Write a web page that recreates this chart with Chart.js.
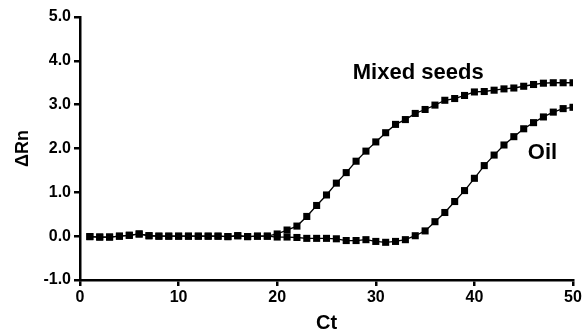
<!DOCTYPE html>
<html>
<head>
<meta charset="utf-8">
<script src="https://cdn.jsdelivr.net/npm/chart.js@4"></script>
<style>
  html, body { margin: 0; padding: 0; background: #fff; }
  #wrap { width: 587px; height: 331px; }
</style>
</head>
<body>
<div id="wrap"><canvas id="myChart" width="587" height="331"></canvas></div>
<script>
// Ct (cycle number)
const cycles = [1,2,3,4,5,6,7,8,9,10,11,12,13,14,15,16,17,18,19,20,21,22,23,24,25,
  26,27,28,29,30,31,32,33,34,35,36,37,38,39,40,41,42,43,44,45,46,47,48,49,50];

// ΔRn, mixed seeds
const mixedSeeds = [-0.01,-0.02,-0.02,0.00,0.02,0.05,0.01,0.00,0.00,0.00,0.00,0.00,0.00,0.00,-0.01,
  0.01,-0.01,0.00,0.00,0.05,0.14,0.23,0.45,0.70,0.94,1.21,1.45,1.71,1.94,2.15,2.36,2.55,2.66,2.80,
  2.89,2.99,3.10,3.14,3.21,3.29,3.30,3.33,3.36,3.38,3.42,3.46,3.49,3.50,3.50,3.50];

// ΔRn, oil
const oil = [-0.01,-0.02,-0.02,0.00,0.02,0.05,0.01,0.00,0.00,0.00,0.00,0.00,0.00,0.00,-0.01,
  0.01,-0.01,0.00,0.00,-0.02,-0.02,-0.03,-0.05,-0.05,-0.05,-0.06,-0.10,-0.10,-0.08,-0.12,-0.14,
  -0.12,-0.08,0.01,0.12,0.33,0.54,0.79,1.04,1.32,1.61,1.85,2.08,2.27,2.45,2.59,2.72,2.83,2.91,2.94];

const yTicks = [-1, 0, 1, 2, 3, 4, 5];
const xTicks = [0, 10, 20, 30, 40, 50];

// curve labels, in data units
const curveLabels = [
  { text: 'Mixed seeds', x: 34.3, y: 3.72 },
  { text: 'Oil', x: 46.9, y: 1.90 }
];

const FONT = '"Liberation Sans", Arial, sans-serif';

function toPoints(ys) {
  return cycles.map((c, i) => ({ x: c, y: ys[i] }));
}

// draws the "Mixed seeds" / "Oil" text next to the curves
const curveLabelPlugin = {
  id: 'curveLabels',
  afterDatasetsDraw(chart) {
    const ctx = chart.ctx;
    const xs = chart.scales.x, ys = chart.scales.y;
    ctx.save();
    ctx.fillStyle = '#000';
    ctx.font = 'bold 22px ' + FONT;
    ctx.textAlign = 'center';
    ctx.textBaseline = 'middle';
    curveLabels.forEach(l => {
      ctx.fillText(l.text, xs.getPixelForValue(l.x), ys.getPixelForValue(l.y));
    });
    ctx.restore();
  }
};

function lineSet(label, ys) {
  return {
    label: label,
    data: toPoints(ys),
    borderColor: '#000',
    borderWidth: 1.3,
    backgroundColor: '#000',
    pointStyle: 'rect',
    pointRadius: 5,
    pointBorderWidth: 0,
    pointBackgroundColor: '#000',
    tension: 0
  };
}

const ctx = document.getElementById('myChart').getContext('2d');
const myChart = new Chart(ctx, {
  type: 'line',
  data: {
    datasets: [lineSet('Mixed seeds', mixedSeeds), lineSet('Oil', oil)]
  },
  options: {
    responsive: false,
    animation: false,
    layout: { padding: { left: 0, right: 14, top: 17, bottom: 0 } },
    plugins: {
      legend: { display: false },
      tooltip: { enabled: false }
    },
    scales: {
      x: {
        type: 'linear',
        min: 0,
        max: 50,
        afterFit: s => { s.height = 51; },
        afterBuildTicks: s => { s.ticks = xTicks.map(v => ({ value: v })); },
        border: { display: true, color: '#000', width: 2.5 },
        grid: { drawOnChartArea: false, drawTicks: true, tickLength: 6, color: '#000', lineWidth: 2.5 },
        ticks: {
          color: '#000',
          padding: 2,
          maxRotation: 0,
          font: { family: FONT, size: 16, weight: 'bold' }
        },
        title: {
          display: true,
          text: 'Ct',
          color: '#000',
          padding: 0,
          font: { family: FONT, size: 20, weight: 'bold', lineHeight: 0.8 }
        }
      },
      y: {
        min: -1,
        max: 5,
        afterFit: s => { s.width = 80; },
        afterBuildTicks: s => { s.ticks = yTicks.map(v => ({ value: v })); },
        border: { display: true, color: '#000', width: 2.5 },
        grid: { drawOnChartArea: false, drawTicks: true, tickLength: 6, color: '#000', lineWidth: 2.5 },
        ticks: {
          color: '#000',
          padding: 3,
          callback: v => v.toFixed(1),
          font: { family: FONT, size: 16, weight: 'bold' }
        },
        title: {
          display: true,
          text: 'ΔRn',
          color: '#000',
          padding: { top: 12, bottom: 0 },
          font: { family: FONT, size: 18, weight: 'bold' }
        }
      }
    }
  },
  plugins: [curveLabelPlugin]
});
</script>
</body>
</html>
